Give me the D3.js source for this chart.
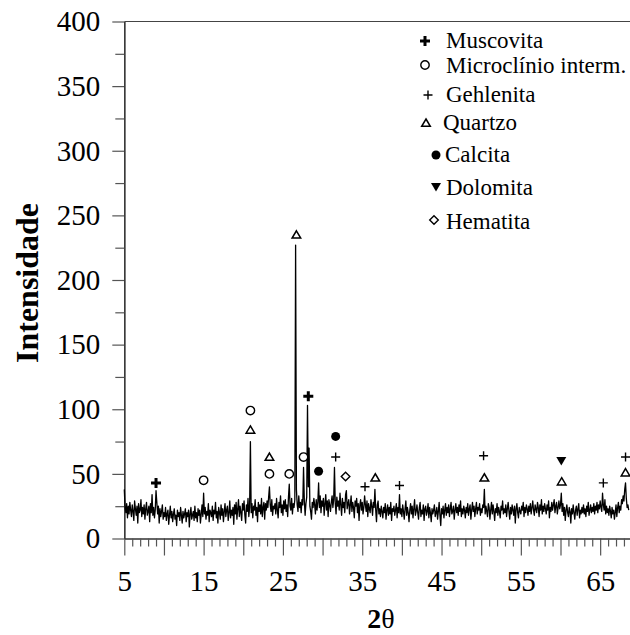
<!DOCTYPE html>
<html>
<head>
<meta charset="utf-8">
<script src="https://cdn.jsdelivr.net/npm/d3@7"></script>
<style>
  body { margin: 0; background: #fff; }
  text { font-family: "Liberation Serif", "Times New Roman", serif; fill: #000; }
</style>
</head>
<body>
<div class="xrd-chart"></div>
<script>
// diffractogram: intensity, one value every 0.1 deg from 5.0 to 68.6
var twoThetaStart = 5.0,
    twoThetaStep = 0.1;
var intensity = [
  38,24,20,27,16,25,19,28,22,17,   // 5
  26,21,14,29,23,18,25,12,27,20,   // 6
  22,30,17,24,19,26,15,23,28,18,   // 7
  21,25,13,27,20,34,18,24,16,22,   // 8
  37,28,19,25,12,23,17,21,26,15,   // 9
  20,17,24,14,19,22,11,18,25,16,   // 10
  21,13,19,23,15,18,10,22,17,20,   // 11
  14,24,18,12,21,16,19,23,13,20,   // 12
  17,22,9,19,24,15,18,21,14,25,    // 13
  16,20,13,23,18,22,12,19,26,17,   // 14
  35,19,24,15,21,18,27,13,22,20,   // 15
  17,25,14,22,19,28,16,21,12,24,   // 16
  20,15,26,18,23,13,21,27,17,22,   // 17
  25,14,20,29,16,22,18,24,11,26,   // 18
  19,28,15,23,30,17,25,20,14,27,   // 19
  22,29,18,12,26,21,31,17,24,75,   // 20
  20,27,16,25,22,30,18,24,13,28,   // 21
  21,26,19,31,17,24,28,15,27,22,   // 22
  29,24,32,40,26,21,30,18,25,23,   // 23
  27,19,31,22,16,28,24,33,20,26,   // 24
  18,29,23,30,21,26,17,32,42,25,   // 25
  22,31,19,27,24,30,227,38,26,21,  // 26
  33,24,28,20,30,26,55,29,18,27,   // 27
  32,103,40,70,25,21,15,28,24,31,  // 28
  26,19,30,22,28,43,24,33,20,29,   // 29
  25,31,18,27,34,22,29,17,30,26,   // 30
  21,28,33,24,30,55,27,19,32,25,   // 31
  29,22,35,26,18,31,24,28,20,34,   // 32
  37,23,27,30,19,26,33,21,28,24,   // 33
  16,29,25,31,20,27,14,26,30,22,   // 34
  28,19,24,33,26,21,29,17,27,23,   // 35
  20,30,25,18,28,24,38,22,13,26,   // 36
  29,19,23,17,25,21,16,24,20,27,   // 37
  15,22,26,18,24,19,28,14,23,21,   // 38
  25,18,22,27,16,24,20,34,19,23,   // 39
  17,26,21,15,23,29,18,24,20,13,   // 40
  22,27,19,25,16,23,30,18,21,26,   // 41
  20,15,24,28,17,22,19,26,14,23,   // 42
  25,18,21,27,16,24,20,13,23,19,   // 43
  22,26,17,20,24,15,21,28,18,10,   // 44
  23,19,25,16,22,27,18,24,20,26,   // 45
  17,23,28,19,21,25,15,22,27,20,   // 46
  24,18,26,21,29,17,23,19,25,22,   // 47
  16,24,20,27,18,23,26,15,22,28,   // 48
  21,25,17,23,28,19,24,22,27,18,   // 49
  23,20,26,24,38,19,25,21,17,27,   // 50
  24,15,22,28,19,26,21,14,23,20,   // 51
  27,18,24,21,16,25,22,29,19,23,   // 52
  20,26,17,23,28,21,15,24,19,26,   // 53
  22,18,25,12,23,27,20,16,24,21,   // 54
  19,25,22,28,17,24,20,26,23,18,   // 55
  25,21,27,19,24,29,22,18,26,23,   // 56
  20,28,24,17,26,22,30,19,25,21,   // 57
  27,23,19,26,22,29,16,24,21,28,   // 58
  22,26,30,20,25,28,19,24,29,23,   // 59
  26,35,21,27,18,24,14,22,26,20,   // 60
  17,24,21,12,23,19,26,20,15,22,   // 61
  25,18,23,27,16,22,19,24,20,26,   // 62
  19,23,17,25,21,28,18,22,26,20,   // 63
  24,21,27,19,25,22,28,20,26,23,   // 64
  29,24,21,35,26,22,30,19,25,20,   // 65
  23,18,25,21,16,24,19,22,15,20,   // 66
  26,17,24,28,20,25,22,30,27,33,   // 67
  29,38,43,31,24,26,22             // 68
];

// phase markers [2theta, intensity where the symbol sits]
var muscovita   = [[9.0, 43], [28.2, 110]];
var microclinio = [[15.0, 45], [20.9, 99], [23.3, 50], [25.8, 50], [27.6, 63]];
var gehlenita   = [[31.65, 63], [35.35, 40], [39.7, 41], [50.3, 64], [65.4, 43], [68.2, 63]];
var quartzo     = [[20.9, 84], [23.3, 63], [26.7, 235], [36.65, 47], [50.4, 47], [60.15, 44], [68.2, 51]];
var calcita     = [[29.5, 52], [31.65, 79]];
var dolomita    = [[60.1, 60]];
var hematita    = [[32.9, 48]];

var legendNames = ["Muscovita", "Microclínio interm.", "Gehlenita", "Quartzo", "Calcita", "Dolomita", "Hematita"];
var legendKinds = ["boldcross", "circle", "plus", "triangle", "dot", "downtriangle", "diamond"];

var yTicks = [0, 50, 100, 150, 200, 250, 300, 350, 400];
var xTicks = [5, 10, 15, 20, 25, 30, 35, 40, 45, 50, 55, 60, 65];

var viewbox_width = 630,
    viewbox_height = 635;

var xScale = d3.scaleLinear().domain([5, 68.7]).range([124.3, 629.5]),
    yScale = d3.scaleLinear().domain([0, 400]).range([538.5, 21.5]);

var svg = d3.select(".xrd-chart").append("svg")
    .attr("width", viewbox_width)
    .attr("height", viewbox_height);

// axes
var yaxisg = svg.append("g")
    .attr("transform", "translate(" + xScale.range()[0] + ",0)")
    .call(d3.axisLeft(yScale).tickValues(yTicks).tickSize(12).tickSizeOuter(0).tickPadding(12));
svg.append("g")
    .attr("transform", "translate(" + xScale.range()[0] + ",0)")
    .call(d3.axisLeft(yScale).tickValues(d3.range(25, 400, 50)).tickSize(9).tickSizeOuter(0).tickFormat(""));

var xaxisg = svg.append("g")
    .attr("transform", "translate(0," + yScale(0) + ")")
    .call(d3.axisBottom(xScale).tickValues(xTicks).tickSize(17).tickSizeOuter(0).tickPadding(15)
        .tickFormat(function(d) { return d % 10 === 5 ? d : ""; }));
svg.append("g")
    .attr("transform", "translate(0," + yScale(0) + ")")
    .call(d3.axisBottom(xScale).tickValues(d3.range(6, 69, 1).filter(function(d) { return d % 5 !== 0; }))
        .tickSize(8).tickSizeOuter(0).tickFormat(""));

svg.selectAll(".tick line").attr("stroke", "#555").attr("stroke-width", 1.2);
svg.selectAll(".domain").attr("stroke", "#333").attr("stroke-width", 1.2);
svg.selectAll(".tick text")
    .attr("font-family", "Liberation Serif, serif")
    .attr("font-size", 29)
    .attr("fill", "#000");

// top frame line
svg.append("line")
    .attr("x1", xScale.range()[0]).attr("x2", viewbox_width)
    .attr("y1", yScale(400)).attr("y2", yScale(400))
    .attr("stroke", "#444").attr("stroke-width", 1.2);

// axis titles
svg.append("text")
    .attr("transform", "translate(38,283)rotate(-90)")
    .attr("text-anchor", "middle")
    .attr("font-size", 32)
    .attr("font-weight", "bold")
    .text("Intensidade");

var xt = svg.append("text")
    .attr("x", 381).attr("y", 628)
    .attr("text-anchor", "middle")
    .attr("font-size", 28);
xt.append("tspan").attr("font-weight", "bold").text("2");
xt.append("tspan").text("θ");

// pattern
var line = d3.line()
    .x(function(d, i) { return xScale(twoThetaStart + i * twoThetaStep); })
    .y(function(d) { return yScale(d); });

svg.append("path")
    .datum(intensity)
    .attr("d", line)
    .attr("fill", "none")
    .attr("stroke", "#000")
    .attr("stroke-width", 1.3)
    .attr("stroke-linejoin", "round");

// markers
function marker(g, kind, x, y) {
    var m = g.append("g").attr("transform", "translate(" + x + "," + y + ")");
    if (kind === "boldcross") {
        m.append("path").attr("d", "M-5,0H5M0,-5V5").attr("stroke", "#000").attr("stroke-width", 3);
    } else if (kind === "circle") {
        m.append("circle").attr("r", 4.2).attr("fill", "#fff").attr("stroke", "#000").attr("stroke-width", 1.4);
    } else if (kind === "plus") {
        m.append("path").attr("d", "M-4.5,0H4.5M0,-4.5V4.5").attr("stroke", "#000").attr("stroke-width", 1.4);
    } else if (kind === "triangle") {
        m.append("path").attr("d", "M0,-4L4.3,3.3H-4.3Z").attr("fill", "#fff").attr("stroke", "#000").attr("stroke-width", 1.5);
    } else if (kind === "dot") {
        m.append("circle").attr("r", 4.5).attr("fill", "#000");
    } else if (kind === "downtriangle") {
        m.append("path").attr("d", "M-5,-4H5L0,4.5Z").attr("fill", "#000");
    } else if (kind === "diamond") {
        m.append("path").attr("d", "M0,-4.3L4.3,0L0,4.3L-4.3,0Z").attr("fill", "#fff").attr("stroke", "#000").attr("stroke-width", 1.4);
    }
}

var markg = svg.append("g");
var phases = [muscovita, microclinio, gehlenita, quartzo, calcita, dolomita, hematita];
phases.forEach(function(list, k) {
    list.forEach(function(p) {
        marker(markg, legendKinds[k], xScale(p[0]), yScale(p[1]));
    });
});

// legend
var legendSymX = [425, 425, 428, 426, 436, 436, 434],
    legendSymY = [41, 65, 95, 123, 155, 187, 220],
    legendTxtX = [446, 446, 446, 443, 445, 446, 446],
    legendTxtY = [48, 73, 102, 130, 162, 195, 229];
var legend = svg.append("g").attr("class", "legend");
legendNames.forEach(function(name, k) {
    marker(legend, legendKinds[k], legendSymX[k], legendSymY[k]);
    legend.append("text")
        .attr("x", legendTxtX[k]).attr("y", legendTxtY[k])
        .attr("font-size", 23)
        .text(name);
});
</script>
</body>
</html>
